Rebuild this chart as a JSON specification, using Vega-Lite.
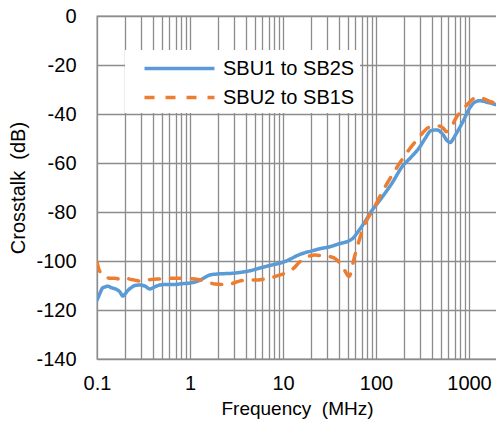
{
  "$schema": "https://vega.github.io/schema/vega-lite/v6.json",
  "width": 400,
  "height": 343,
  "autosize": {"type": "none"},
  "padding": {"left": 97, "top": 16, "right": 0, "bottom": 66},
  "background": "white",
  "config": {
    "font": "Liberation Sans",
    "view": {"stroke": "#8c8c8c", "strokeWidth": 1.3},
    "axis": {"gridColor": "#8c8c8c", "gridWidth": 1.3, "gridOpacity": 1, "domain": false, "ticks": false, "labelColor": "#000", "titleColor": "#000", "labelFont": "Liberation Sans", "titleFont": "Liberation Sans", "labelFontSize": 20, "titleFontSize": 19, "titleFontWeight": "normal"}
  },
  "data": {"values": [
    {"f": 0.1, "db": -116, "s": "SBU1 to SB2S"},
    {"f": 0.104, "db": -114.5, "s": "SBU1 to SB2S"},
    {"f": 0.108, "db": -113, "s": "SBU1 to SB2S"},
    {"f": 0.115, "db": -111, "s": "SBU1 to SB2S"},
    {"f": 0.122, "db": -110.6, "s": "SBU1 to SB2S"},
    {"f": 0.13, "db": -110.3, "s": "SBU1 to SB2S"},
    {"f": 0.145, "db": -111, "s": "SBU1 to SB2S"},
    {"f": 0.16, "db": -111.5, "s": "SBU1 to SB2S"},
    {"f": 0.175, "db": -112.5, "s": "SBU1 to SB2S"},
    {"f": 0.19, "db": -114.3, "s": "SBU1 to SB2S"},
    {"f": 0.2, "db": -113.5, "s": "SBU1 to SB2S"},
    {"f": 0.215, "db": -112, "s": "SBU1 to SB2S"},
    {"f": 0.235, "db": -110.8, "s": "SBU1 to SB2S"},
    {"f": 0.256, "db": -110, "s": "SBU1 to SB2S"},
    {"f": 0.29, "db": -109.8, "s": "SBU1 to SB2S"},
    {"f": 0.33, "db": -110.3, "s": "SBU1 to SB2S"},
    {"f": 0.37, "db": -111.4, "s": "SBU1 to SB2S"},
    {"f": 0.42, "db": -110.5, "s": "SBU1 to SB2S"},
    {"f": 0.476, "db": -109.8, "s": "SBU1 to SB2S"},
    {"f": 0.55, "db": -109.6, "s": "SBU1 to SB2S"},
    {"f": 0.69, "db": -109.6, "s": "SBU1 to SB2S"},
    {"f": 0.8, "db": -109.3, "s": "SBU1 to SB2S"},
    {"f": 1.0, "db": -109, "s": "SBU1 to SB2S"},
    {"f": 1.15, "db": -108.5, "s": "SBU1 to SB2S"},
    {"f": 1.28, "db": -107.8, "s": "SBU1 to SB2S"},
    {"f": 1.45, "db": -106.7, "s": "SBU1 to SB2S"},
    {"f": 1.64, "db": -105.7, "s": "SBU1 to SB2S"},
    {"f": 2.0, "db": -105.3, "s": "SBU1 to SB2S"},
    {"f": 2.9, "db": -105, "s": "SBU1 to SB2S"},
    {"f": 3.4, "db": -104.7, "s": "SBU1 to SB2S"},
    {"f": 4.4, "db": -104, "s": "SBU1 to SB2S"},
    {"f": 5.5, "db": -103, "s": "SBU1 to SB2S"},
    {"f": 7.3, "db": -101.8, "s": "SBU1 to SB2S"},
    {"f": 10, "db": -100.5, "s": "SBU1 to SB2S"},
    {"f": 16, "db": -97, "s": "SBU1 to SB2S"},
    {"f": 20, "db": -96, "s": "SBU1 to SB2S"},
    {"f": 25, "db": -95, "s": "SBU1 to SB2S"},
    {"f": 31.7, "db": -94.2, "s": "SBU1 to SB2S"},
    {"f": 40, "db": -93, "s": "SBU1 to SB2S"},
    {"f": 52, "db": -91.6, "s": "SBU1 to SB2S"},
    {"f": 58, "db": -90.3, "s": "SBU1 to SB2S"},
    {"f": 62, "db": -88.8, "s": "SBU1 to SB2S"},
    {"f": 70, "db": -86, "s": "SBU1 to SB2S"},
    {"f": 78, "db": -83.3, "s": "SBU1 to SB2S"},
    {"f": 90, "db": -79.5, "s": "SBU1 to SB2S"},
    {"f": 110, "db": -75.2, "s": "SBU1 to SB2S"},
    {"f": 150, "db": -68, "s": "SBU1 to SB2S"},
    {"f": 190, "db": -61.6, "s": "SBU1 to SB2S"},
    {"f": 240, "db": -57.5, "s": "SBU1 to SB2S"},
    {"f": 295, "db": -53.5, "s": "SBU1 to SB2S"},
    {"f": 340, "db": -49.8, "s": "SBU1 to SB2S"},
    {"f": 390, "db": -46.8, "s": "SBU1 to SB2S"},
    {"f": 450, "db": -46.5, "s": "SBU1 to SB2S"},
    {"f": 530, "db": -48.6, "s": "SBU1 to SB2S"},
    {"f": 580, "db": -50.8, "s": "SBU1 to SB2S"},
    {"f": 630, "db": -51.6, "s": "SBU1 to SB2S"},
    {"f": 680, "db": -50, "s": "SBU1 to SB2S"},
    {"f": 735, "db": -47.8, "s": "SBU1 to SB2S"},
    {"f": 850, "db": -43.5, "s": "SBU1 to SB2S"},
    {"f": 1020, "db": -37.5, "s": "SBU1 to SB2S"},
    {"f": 1150, "db": -35.2, "s": "SBU1 to SB2S"},
    {"f": 1300, "db": -34.6, "s": "SBU1 to SB2S"},
    {"f": 1600, "db": -35.3, "s": "SBU1 to SB2S"},
    {"f": 2000, "db": -36.3, "s": "SBU1 to SB2S"},
    {"f": 0.1, "db": -100.4, "s": "SBU2 to SB1S"},
    {"f": 0.103, "db": -102.5, "s": "SBU2 to SB1S"},
    {"f": 0.108, "db": -104.5, "s": "SBU2 to SB1S"},
    {"f": 0.115, "db": -106, "s": "SBU2 to SB1S"},
    {"f": 0.122, "db": -106.5, "s": "SBU2 to SB1S"},
    {"f": 0.14, "db": -107, "s": "SBU2 to SB1S"},
    {"f": 0.156, "db": -107, "s": "SBU2 to SB1S"},
    {"f": 0.18, "db": -107.5, "s": "SBU2 to SB1S"},
    {"f": 0.2, "db": -107, "s": "SBU2 to SB1S"},
    {"f": 0.23, "db": -107.5, "s": "SBU2 to SB1S"},
    {"f": 0.256, "db": -107.8, "s": "SBU2 to SB1S"},
    {"f": 0.29, "db": -108.2, "s": "SBU2 to SB1S"},
    {"f": 0.33, "db": -107.8, "s": "SBU2 to SB1S"},
    {"f": 0.4, "db": -107.5, "s": "SBU2 to SB1S"},
    {"f": 0.476, "db": -107.3, "s": "SBU2 to SB1S"},
    {"f": 0.6, "db": -107, "s": "SBU2 to SB1S"},
    {"f": 0.78, "db": -107, "s": "SBU2 to SB1S"},
    {"f": 1.0, "db": -107.2, "s": "SBU2 to SB1S"},
    {"f": 1.13, "db": -107.3, "s": "SBU2 to SB1S"},
    {"f": 1.45, "db": -108.2, "s": "SBU2 to SB1S"},
    {"f": 1.86, "db": -109.4, "s": "SBU2 to SB1S"},
    {"f": 2.3, "db": -109.6, "s": "SBU2 to SB1S"},
    {"f": 2.7, "db": -109.4, "s": "SBU2 to SB1S"},
    {"f": 3.4, "db": -108.2, "s": "SBU2 to SB1S"},
    {"f": 4.2, "db": -107.8, "s": "SBU2 to SB1S"},
    {"f": 5, "db": -107.8, "s": "SBU2 to SB1S"},
    {"f": 6.4, "db": -107.3, "s": "SBU2 to SB1S"},
    {"f": 8, "db": -106.5, "s": "SBU2 to SB1S"},
    {"f": 9.3, "db": -105.7, "s": "SBU2 to SB1S"},
    {"f": 11, "db": -104.6, "s": "SBU2 to SB1S"},
    {"f": 12.8, "db": -103.2, "s": "SBU2 to SB1S"},
    {"f": 15, "db": -100.5, "s": "SBU2 to SB1S"},
    {"f": 17, "db": -98.8, "s": "SBU2 to SB1S"},
    {"f": 20, "db": -97.8, "s": "SBU2 to SB1S"},
    {"f": 22, "db": -97.6, "s": "SBU2 to SB1S"},
    {"f": 26, "db": -97.8, "s": "SBU2 to SB1S"},
    {"f": 31.7, "db": -98.2, "s": "SBU2 to SB1S"},
    {"f": 37, "db": -99.2, "s": "SBU2 to SB1S"},
    {"f": 42, "db": -101.5, "s": "SBU2 to SB1S"},
    {"f": 46, "db": -103.8, "s": "SBU2 to SB1S"},
    {"f": 51, "db": -106.3, "s": "SBU2 to SB1S"},
    {"f": 54, "db": -104.5, "s": "SBU2 to SB1S"},
    {"f": 56, "db": -101.6, "s": "SBU2 to SB1S"},
    {"f": 59, "db": -98, "s": "SBU2 to SB1S"},
    {"f": 62, "db": -95, "s": "SBU2 to SB1S"},
    {"f": 70, "db": -88.5, "s": "SBU2 to SB1S"},
    {"f": 82, "db": -82.4, "s": "SBU2 to SB1S"},
    {"f": 90, "db": -80, "s": "SBU2 to SB1S"},
    {"f": 120, "db": -71, "s": "SBU2 to SB1S"},
    {"f": 180, "db": -60, "s": "SBU2 to SB1S"},
    {"f": 275, "db": -50.6, "s": "SBU2 to SB1S"},
    {"f": 380, "db": -45.3, "s": "SBU2 to SB1S"},
    {"f": 480, "db": -44.9, "s": "SBU2 to SB1S"},
    {"f": 530, "db": -45.8, "s": "SBU2 to SB1S"},
    {"f": 570, "db": -47.2, "s": "SBU2 to SB1S"},
    {"f": 620, "db": -46, "s": "SBU2 to SB1S"},
    {"f": 660, "db": -44.6, "s": "SBU2 to SB1S"},
    {"f": 735, "db": -41.2, "s": "SBU2 to SB1S"},
    {"f": 850, "db": -38.5, "s": "SBU2 to SB1S"},
    {"f": 950, "db": -36.3, "s": "SBU2 to SB1S"},
    {"f": 1200, "db": -33.3, "s": "SBU2 to SB1S"},
    {"f": 1450, "db": -33.8, "s": "SBU2 to SB1S"},
    {"f": 1700, "db": -35, "s": "SBU2 to SB1S"},
    {"f": 2000, "db": -35.5, "s": "SBU2 to SB1S"}
  ]},
  "mark": {"type": "line", "interpolate": "monotone", "strokeWidth": 3.5, "strokeCap": "round", "clip": true},
  "encoding": {
    "x": {
      "field": "f", "type": "quantitative",
      "scale": {"type": "log", "domain": [0.1, 2000], "nice": false},
      "axis": {
        "title": "Frequency\u00a0 (MHz)",
        "values": [0.1,0.2,0.3,0.4,0.5,0.6,0.7,0.8,0.9,1,2,3,4,5,6,7,8,9,10,20,30,40,50,60,70,80,90,100,200,300,400,500,600,700,800,900,1000,2000],
        "format": "~g",
        "labelExpr": "indexof([0.1,1,10,100,1000], datum.value) >= 0 ? datum.label : ''",
        "labelPadding": 14,
        "titlePadding": 6,
        "labelFlush": false,
        "labelOverlap": false,
        "grid": true
      }
    },
    "y": {
      "field": "db", "type": "quantitative",
      "scale": {"domain": [-140, 0], "nice": false},
      "axis": {
        "title": "Crosstalk\u00a0 (dB)",
        "titleFontSize": 20,
        "values": [-140,-120,-100,-80,-60,-40,-20,0],
        "labelExpr": "'' + datum.value",
        "labelPadding": 21,
        "titlePadding": 7,
        "grid": true
      }
    },
    "color": {
      "field": "s", "type": "nominal",
      "scale": {"domain": ["SBU1 to SB2S", "SBU2 to SB1S"], "range": ["#5B9BD5", "#ED7D31"]},
      "legend": {
        "title": null,
        "orient": "none",
        "legendX": 28,
        "legendY": 34,
        "fillColor": "white",
        "padding": 5,
        "symbolType": "M-3,0H3",
        "symbolSize": 544,
        "symbolStrokeWidth": 3.5,
        "symbolOffset": 36,
        "labelFontSize": 20,
        "labelFont": "Liberation Sans",
        "labelColor": "#000",
        "labelOffset": 30,
        "rowPadding": 5
      }
    },
    "strokeDash": {
      "field": "s", "type": "nominal",
      "scale": {"domain": ["SBU1 to SB2S", "SBU2 to SB1S"], "range": [[1, 0], [10, 11]]},
      "legend": {
        "title": null,
        "orient": "none",
        "legendX": 28,
        "legendY": 34,
        "fillColor": "white",
        "padding": 5,
        "symbolType": "M-3,0H3",
        "symbolSize": 544,
        "symbolStrokeWidth": 3.5,
        "symbolOffset": 36,
        "labelFontSize": 20,
        "labelFont": "Liberation Sans",
        "labelColor": "#000",
        "labelOffset": 30,
        "rowPadding": 5
      }
    }
  }
}
